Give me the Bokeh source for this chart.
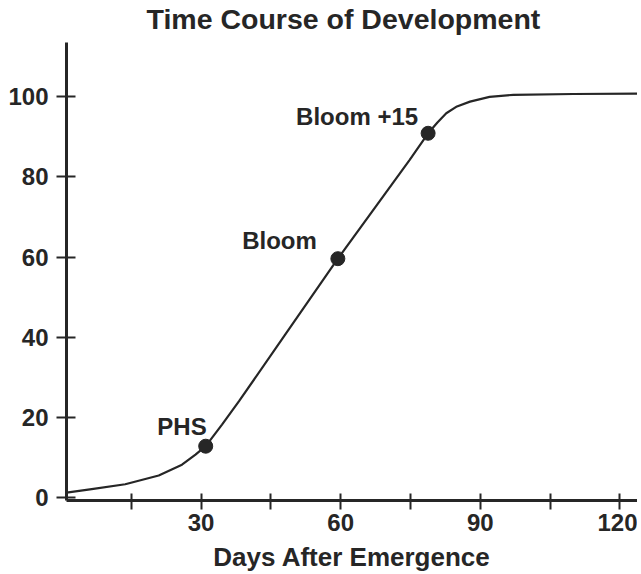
from bokeh.plotting import figure
from bokeh.models import FixedTicker, Range1d, ColumnDataSource
from bokeh.core.properties import value
from bokeh.embed import file_html
from bokeh.resources import INLINE

# Development curve (days after emergence vs % development)
days = [1.1, 6.5, 13.7, 20.9, 25.9, 28.8, 31.0, 34.5, 38.2, 48.0, 59.4, 74.8,
        78.8, 80.8, 82.7, 85.0, 87.8, 92.0, 97.1, 110.0, 124.0]
dev = [1.2, 2.1, 3.3, 5.5, 8.2, 10.7, 12.8, 18.2, 24.1, 40.5, 59.6, 84.2,
       90.9, 93.6, 95.9, 97.6, 98.8, 100.0, 100.5, 100.7, 100.8]

# Marked growth stages
stage_days = [31.0, 59.4, 78.8]
stage_dev = [12.8, 59.6, 90.9]
stage_names = ["PHS", "Bloom", "Bloom +15"]

# Axis ticks
x_ticks = [15, 30, 45, 60, 75, 90, 105, 120]
x_tick_labels = ["", "30", "", "60", "", "90", "", "120"]
y_ticks = [0, 20, 40, 60, 80, 100]

INK = "#262626"
FONT = "Liberation Sans"

x_start, x_end = 1.08, 123.8
y_start, y_end = -0.75, 115.55
y_axis_top = 113.5

p = figure(width=637, height=574, output_backend="svg", toolbar_location=None,
           x_range=Range1d(x_start, x_end), y_range=Range1d(y_start, y_end),
           min_border_left=66, min_border_right=0, min_border_top=0,
           min_border_bottom=0)

p.title.text = "Time Course of Development"
p.title.align = "left"
p.title.text_font = FONT
p.title.text_font_size = "28.5px"
p.title.text_font_style = "bold"
p.title.text_color = INK
p.title.standoff = 0
p.title.offset = 80

p.outline_line_color = None
p.grid.visible = False
p.background_fill_color = "white"
p.border_fill_color = "white"

for ax in (p.xaxis[0], p.yaxis[0]):
    ax.axis_line_color = INK
    ax.axis_line_width = 3
    ax.major_tick_line_color = INK
    ax.major_tick_line_width = 2
    ax.minor_tick_line_color = None
    ax.major_label_text_font = FONT
    ax.major_label_text_font_size = "24px"
    ax.major_label_text_font_style = "bold"
    ax.major_label_text_color = INK

p.xaxis.ticker = FixedTicker(ticks=x_ticks)
p.xaxis.major_label_overrides = {t: l for t, l in zip(x_ticks, x_tick_labels)}
p.xaxis.major_tick_in = 7
p.xaxis.major_tick_out = 9
p.xaxis.major_label_standoff = 4
p.xaxis.axis_label = "Days After Emergence"
p.xaxis.axis_label_text_font = FONT
p.xaxis.axis_label_text_font_size = "26px"
p.xaxis.axis_label_text_font_style = "bold"
p.xaxis.axis_label_text_color = INK
p.xaxis.axis_label_standoff = 8

p.yaxis.ticker = FixedTicker(ticks=y_ticks)
p.yaxis.bounds = (y_start, y_axis_top)
p.yaxis.major_tick_in = 9
p.yaxis.major_tick_out = 10
p.yaxis.major_label_standoff = 8

# curve
p.line(days, dev, line_color=INK, line_width=2.2)

# stage markers
src = ColumnDataSource(dict(x=stage_days, y=stage_dev, name=stage_names,
                            xo=[1, -21, -10], yo=[-20, -18, -17]))
p.scatter("x", "y", source=src, size=14, fill_color=INK, line_color=INK)
p.text("x", "y", text="name", source=src, x_offset="xo", y_offset="yo",
       text_align="right", text_baseline="middle",
       text_font=value(FONT), text_font_size="24px", text_font_style="bold",
       text_color=INK)

open("out.html", "w").write(file_html(p, INLINE))
